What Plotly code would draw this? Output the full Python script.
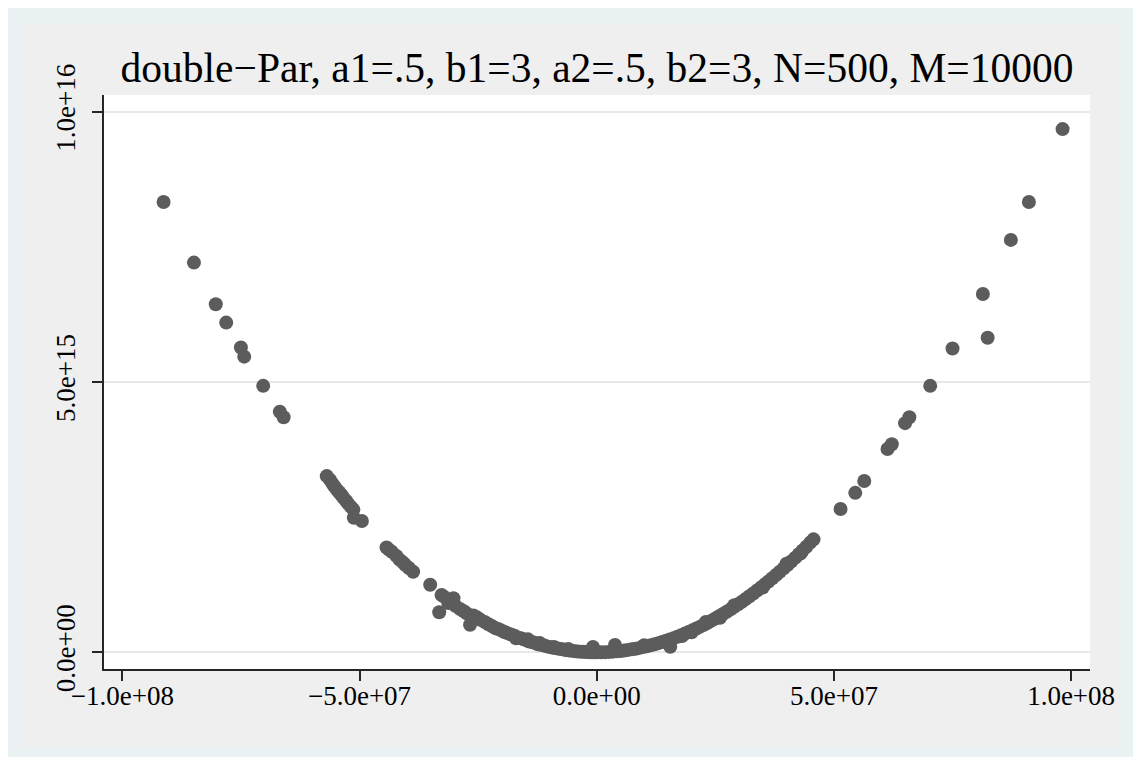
import plotly.graph_objects as go

# Values: x in units of 1e7, y in units of 1e15
x_1e7 = [
    -9.13, -8.49, -8.03, -7.81, -7.50, -7.43, -7.03, -6.68, -6.60,
    -5.69, -5.62, -5.57, -5.52, -5.47, -5.43, -5.38, -5.34, -5.28, -5.24, -5.18, -5.13, -5.12, -4.95,
    -4.43, -4.38, -4.32, -4.22, -4.15, -4.08, -4.04, -3.96, -3.87, -3.51, -3.27, -3.22, -3.02, -3.32,
    -3.13, -2.98, -2.88, -2.80, -2.74, -2.67, -2.60, -2.53, -2.45, -2.36, -2.28, -2.20, -2.14,
    -2.08, -2.02, -1.96, -1.90, -1.84, -1.78, -1.72, -1.66, -1.60, -1.54, -1.48, -1.42, -1.36, -1.30,
    -1.24, -1.18, -1.12, -1.06, -1.00, -0.94, -0.88, -0.82, -0.76, -0.70, -0.64, -0.58, -0.52, -0.46,
    -0.40, -0.34, -0.28, -0.22, -0.16, -0.10, -0.04, -0.08, -1.70, -1.20, -0.60, -1.45, -0.90,
    0.02, 0.10, 0.18, 0.26, 0.34, 0.385, 0.42, 0.50, 0.58, 0.66, 0.74, 0.82, 0.90, 0.98, 1.06, 1.14,
    1.22, 1.30, 1.38, 1.46, 1.55, 1.54, 1.62, 1.70, 1.78, 1.86, 1.94, 2.02, 2.10, 2.18, 2.26, 2.34,
    2.42, 2.50, 2.58, 2.66, 2.74, 2.82, 2.90, 2.98, 3.06, 3.14, 3.22, 3.30, 3.38, 3.46, 3.54, 3.62,
    3.70, 3.78, 3.86, 3.94, 4.02, 4.10, 4.18, 4.26, 4.34, 4.42, 4.50, 4.57,
    1.00, 2.00, 2.30, 2.90, 3.50, 4.00, 4.30, 2.60, 1.80,
    5.14, 5.45, 5.64, 6.13, 6.22, 6.50, 6.59, 7.03, 7.50, 8.24, 8.14, 8.73, 9.11, 9.82,
]
y_1e15 = [
    8.33, 7.21, 6.44, 6.10, 5.64, 5.47, 4.93, 4.45, 4.35,
    3.26, 3.19, 3.12, 3.06, 3.00, 2.96, 2.91, 2.86, 2.80, 2.75, 2.69, 2.64, 2.49, 2.43,
    1.94, 1.90, 1.86, 1.78, 1.71, 1.66, 1.62, 1.56, 1.49, 1.25, 1.06, 1.03, 1.00, 0.74,
    0.91, 0.86, 0.80, 0.76, 0.72, 0.51, 0.68, 0.65, 0.60, 0.56, 0.52, 0.48, 0.45,
    0.43, 0.41, 0.38, 0.36, 0.34, 0.32, 0.30, 0.27, 0.26, 0.24, 0.22, 0.20, 0.19, 0.17,
    0.15, 0.14, 0.13, 0.11, 0.10, 0.09, 0.08, 0.07, 0.06, 0.05, 0.04, 0.035, 0.027, 0.021,
    0.016, 0.012, 0.008, 0.005, 0.003, 0.001, 0.0, 0.10, 0.26, 0.17, 0.06, 0.24, 0.10,
    0.0, 0.001, 0.003, 0.007, 0.012, 0.135, 0.018, 0.025, 0.034, 0.044, 0.055, 0.067, 0.081, 0.096, 0.112, 0.13,
    0.149, 0.169, 0.19, 0.213, 0.104, 0.237, 0.262, 0.289, 0.317, 0.346, 0.376, 0.408, 0.441, 0.475, 0.511, 0.548,
    0.586, 0.625, 0.666, 0.708, 0.751, 0.795, 0.841, 0.888, 0.936, 0.986, 1.037, 1.089, 1.142, 1.197, 1.253, 1.310,
    1.369, 1.429, 1.490, 1.552, 1.616, 1.681, 1.747, 1.815, 1.884, 1.954, 2.03, 2.09,
    0.13, 0.37, 0.56, 0.87, 1.20, 1.64, 1.83, 0.64, 0.30,
    2.65, 2.95, 3.17, 3.76, 3.85, 4.24, 4.35, 4.93, 5.62, 5.82, 6.63, 7.63, 8.33, 9.68,
]

x_tickvals = [-1e8, -5e7, 0, 5e7, 1e8]
x_ticktext = ["\u22121.0e+08", "\u22125.0e+07", "0.0e+00", "5.0e+07", "1.0e+08"]
y_tickvals = [0, 5e15, 1e16]
y_ticktext = ["0.0e+00", "5.0e+15", "1.0e+16"]

title_text = "double\u2212Par, a1=.5, b1=3, a2=.5, b2=3, N=500, M=10000"

xs = [v * 1e7 for v in x_1e7]
ys = [v * 1e15 for v in y_1e15]

# The page body adds an 8px offset; the figure is sized so that it fits the window.
OFF = 8
W, H = 1141 - OFF, 758 - OFF
L, R, T, B = 104 - OFF, 51, 95 - OFF, 89
pw, ph = W - L - R, H - T - B


def px(xpage):
    return (xpage - OFF - L) / pw


def py(ypage):
    return (H - B - (ypage - OFF)) / ph


fig = go.Figure()
fig.add_trace(go.Scatter(
    x=xs, y=ys, mode="markers",
    marker=dict(size=14, color="#5c5c5c", line=dict(width=0)),
    showlegend=False, hoverinfo="skip",
))

font_serif = "Liberation Serif, Times New Roman, serif"

fig.update_layout(
    width=W, height=H,
    margin=dict(l=L, r=R, t=T, b=B),
    paper_bgcolor="#ffffff",
    plot_bgcolor="#ffffff",
    title=dict(text=title_text, xref="paper", x=0.5, xanchor="center",
               y=1 - (67 - OFF) / H, yanchor="middle",
               font=dict(family=font_serif, size=41.5, color="#000000")),
    font=dict(family=font_serif, color="#000000"),
    xaxis=dict(
        range=[-1.0386e8, 1.0398e8], tickvals=x_tickvals, ticktext=x_ticktext,
        showgrid=False, zeroline=False, showline=True, linecolor="#262626", linewidth=2,
        ticks="outside", ticklen=10, tickwidth=1.5, tickcolor="#262626",
        ticklabelstandoff=-8,
        tickfont=dict(family=font_serif, size=27, color="#000000"),
    ),
    yaxis=dict(
        range=[-0.0309e16, 1.0311e16], tickvals=y_tickvals, ticktext=y_ticktext,
        showgrid=True, gridcolor="#e8e8e8", gridwidth=2, zeroline=False,
        showline=True, linecolor="#262626", linewidth=2,
        ticks="outside", ticklen=10, tickwidth=1.5, tickcolor="#262626",
        tickangle=-90, ticklabelstandoff=6,
        tickfont=dict(family=font_serif, size=27, color="#000000"),
    ),
    shapes=[
        dict(type="rect", xref="paper", yref="paper", x0=px(3), x1=px(1150), y0=py(757), y1=py(6),
             fillcolor="#eaf2f3", line=dict(width=0), layer="below"),
        dict(type="rect", xref="paper", yref="paper", x0=px(22), x1=px(1120), y0=py(747), y1=py(23),
             fillcolor="#efefef", line=dict(width=0), layer="below"),
        dict(type="rect", xref="paper", yref="paper", x0=0, x1=1, y0=0, y1=1,
             fillcolor="#ffffff", line=dict(width=0), layer="below"),
    ],
)

fig.write_html("out.html")
